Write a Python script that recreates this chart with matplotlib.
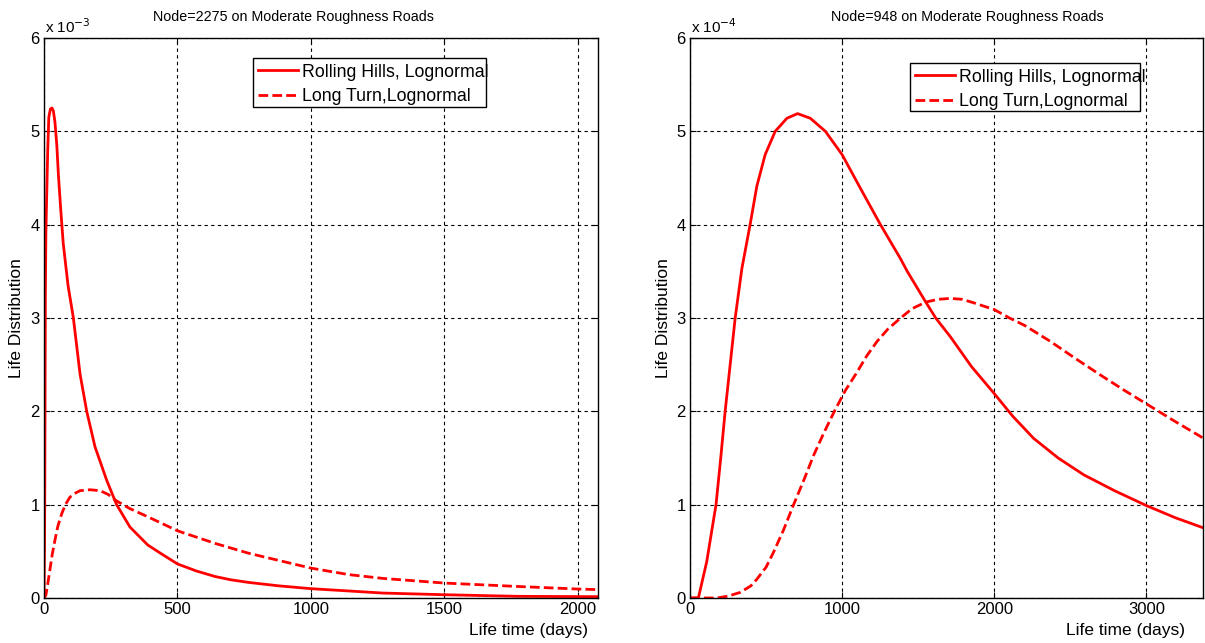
import matplotlib
matplotlib.use("Agg")
import matplotlib.pyplot as plt
from matplotlib.patches import Rectangle

plt.rcParams['font.family'] = ['Liberation Sans', 'DejaVu Sans']

# ---- Data ----
# Left panel: Node=2275, y in units of 1e-3
left_rh_x = [0, 2, 3, 4, 5, 7, 10, 14, 18, 24, 30, 35, 41, 48, 54, 63, 72, 90, 110, 135, 160, 191, 235,
             272, 322, 389, 447, 500, 570, 641, 700, 766, 880, 1000, 1143, 1269, 1500, 1771, 2085]
left_rh_y = [0, 0.6, 1.2, 2.2, 3.2, 3.9, 4.3, 4.8, 5.15, 5.24, 5.25, 5.22, 5.1, 4.85, 4.53, 4.15, 3.8, 3.35, 3.0, 2.4,
             2.0, 1.62, 1.26, 1.0, 0.76, 0.567, 0.46, 0.365, 0.29, 0.23, 0.195, 0.167, 0.13, 0.10, 0.075, 0.053,
             0.035, 0.018, 0.014]

left_lt_x = [0, 7, 14, 22, 31, 41, 52, 66, 80, 97, 115, 135, 172, 210, 240, 272, 320, 389, 500, 641, 766,
             1000, 1143, 1269, 1500, 1771, 2000, 2085]
left_lt_y = [0, 0.03, 0.15, 0.3, 0.47, 0.62, 0.77, 0.9, 1.0, 1.08, 1.12, 1.15, 1.16, 1.15, 1.11, 1.04, 0.96, 0.87,
             0.72, 0.585, 0.48, 0.32, 0.25, 0.21, 0.16, 0.124, 0.096, 0.089]

# Right panel: Node=948, y in units of 1e-4
right_rh_x = [0, 55, 110, 171, 202, 231, 264, 297, 341, 395, 439, 494, 560, 637, 707, 791, 890, 1000, 1120,
              1252, 1382, 1428, 1546, 1615, 1711, 1850, 2000, 2120, 2259, 2420, 2588, 2790, 3000, 3190, 3377]
right_rh_y = [0, 0, 0.39, 1.0, 1.5, 2.0, 2.5, 3.0, 3.53, 4.0, 4.41, 4.75, 5.0, 5.14, 5.19, 5.14, 5.0, 4.75, 4.39,
              4.0, 3.64, 3.5, 3.18, 3.0, 2.80, 2.48, 2.19, 1.95, 1.71, 1.5, 1.32, 1.15, 0.99, 0.86, 0.75]

right_lt_x = [0, 100, 176, 250, 330, 400, 439, 500, 549, 615, 681, 750, 813, 880, 949, 1020, 1098, 1160, 1230,
              1300, 1384, 1460, 1549, 1630, 1711, 1790, 1870, 2000, 2100, 2200, 2368, 2530, 2697, 2850, 3000,
              3190, 3377]
right_lt_y = [0, 0, 0, 0.02, 0.06, 0.13, 0.2, 0.33, 0.49, 0.73, 1.0, 1.27, 1.53, 1.77, 2.0, 2.22, 2.42, 2.59, 2.75,
              2.88, 3.0, 3.1, 3.17, 3.2, 3.21, 3.2, 3.16, 3.09, 3.0, 2.92, 2.75, 2.57, 2.39, 2.23, 2.08,
              1.89, 1.71]

left_xticks = [0, 500, 1000, 1500, 2000]
right_xticks = [0, 1000, 2000, 3000]
yticks = [0, 1, 2, 3, 4, 5, 6]

labels = ['Rolling Hills, Lognormal', 'Long Turn,Lognormal']
titles = ['Node=2275 on Moderate Roughness Roads', 'Node=948 on Moderate Roughness Roads']
exponents = ['-3', '-4']

W, H = 1205, 643
fig = plt.figure(figsize=(W / 100, H / 100), dpi=100)

def px_rect(x0, x1, ytop, ybot):
    return [x0 / W, 1 - ybot / H, (x1 - x0) / W, (ybot - ytop) / H]

ax1 = fig.add_axes(px_rect(44, 598, 38, 598))
ax2 = fig.add_axes(px_rect(690, 1203, 38, 598))

panels = [
    (ax1, left_rh_x, left_rh_y, left_lt_x, left_lt_y, left_xticks, 2075, titles[0], exponents[0],
     293, (253, 486, 58, 107), 588, 17),
    (ax2, right_rh_x, right_rh_y, right_lt_x, right_lt_y, right_xticks, 3372, titles[1], exponents[1],
     967, (910, 1140, 63, 111), 1185, 663),
]

for (ax, rx, ry, lx, ly, xt, xmax, title, expo, tx, lbox, xlab_right, ylab_x) in panels:
    ax.plot(rx, ry, color='red', lw=2.0, label=labels[0])
    ax.plot(lx, ly, color='red', lw=2.0, linestyle=(0, (3.5, 1.5)), label=labels[1])
    ax.set_xlim(0, xmax)
    ax.set_ylim(0, 6)
    ax.set_xticks(xt)
    ax.set_yticks(yticks)
    ax.tick_params(direction='in', top=True, right=True, length=4, width=0.8,
                   labelsize=12, pad=3, colors='black')
    ax.grid(True, color='black', linestyle=(0, (3, 3)), linewidth=0.8)
    for s in ax.spines.values():
        s.set_linewidth(1.0)
        s.set_color('black')
    fig.text(tx / W, 1 - 17 / H, title, ha='center', va='center', fontsize=10.3)
    ax.text(0.002, 1.004, r'x 10$^{%s}$' % expo, transform=ax.transAxes, ha='left', va='bottom',
            fontsize=11)
    # legend box
    bx0, bx1, by0, by1 = lbox
    rect = Rectangle((bx0 / W, 1 - by1 / H), (bx1 - bx0) / W, (by1 - by0) / H,
                     transform=fig.transFigure, facecolor='white', edgecolor='black',
                     linewidth=1.0, zorder=4)
    fig.add_artist(rect)
    leg = fig.legend(handles=ax.get_lines(), labels=labels, loc='upper left',
                     bbox_to_anchor=((bx0 + 1) / W, 1 - (by0 + 2) / H), borderaxespad=0,
                     frameon=False, fontsize=12.8, handlelength=2.3, borderpad=0.2,
                     labelspacing=0.42, handletextpad=0.2)
    leg.set_zorder(5)
    fig.text(xlab_right / W, 1 - 631 / H, 'Life time (days)', ha='right', va='center', fontsize=12.5)
    fig.text(ylab_x / W, 1 - 318 / H, 'Life Distribution', rotation=90, ha='center', va='center',
             fontsize=12.5)

fig.savefig('out.png', dpi=100)
